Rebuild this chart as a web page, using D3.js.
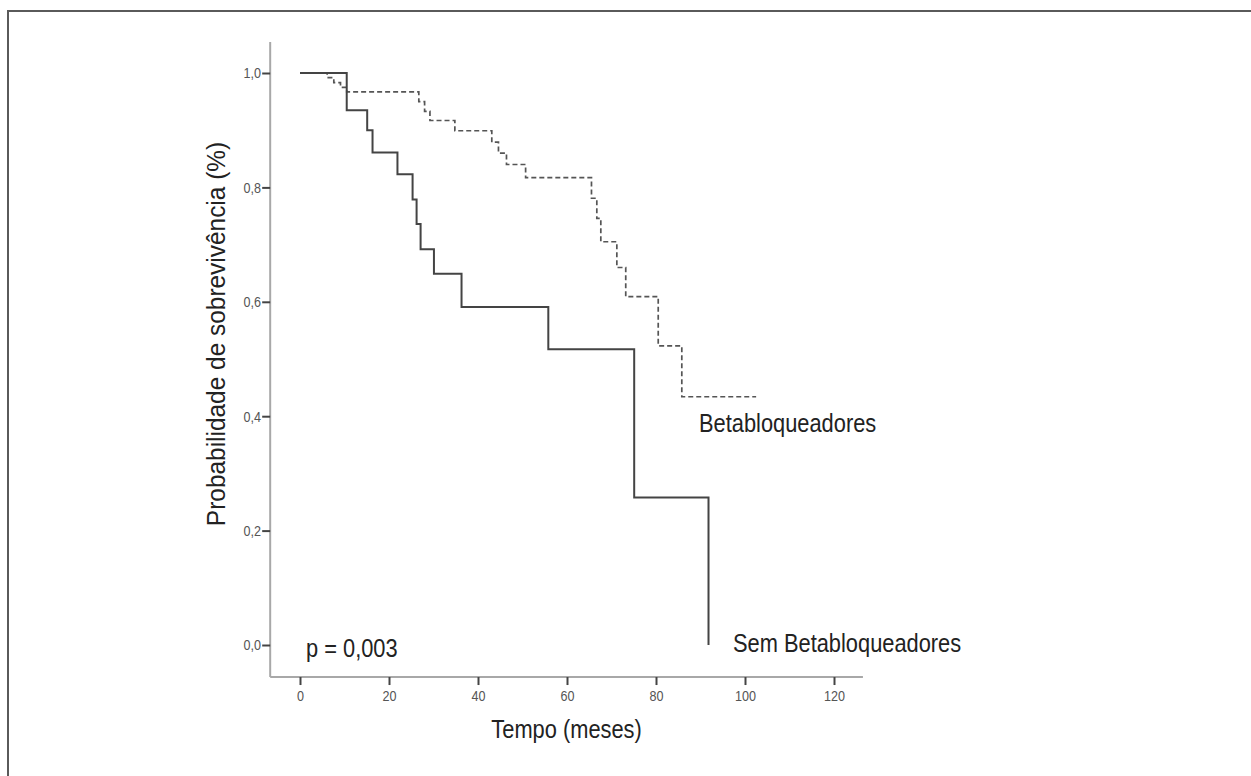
<!DOCTYPE html>
<html>
<head>
<meta charset="utf-8">
<script src="https://cdn.jsdelivr.net/npm/d3@7"></script>
<style>
body{margin:0;background:#fff}
svg text{font-family:"Liberation Sans Narrow","Arial Narrow","Liberation Sans",Arial,sans-serif}
</style>
</head>
<body>
<svg id="map" width="1251" height="776"></svg>
<script>
// tempo (meses) e sobrevivencia estimada
var semTime = [0, 10.5, 15.1, 16.3, 21.9, 25.3, 26.2, 27.1, 30.1, 36.3, 55.8, 75.1, 91.8]
var semSurv = [1, 0.935, 0.900, 0.861, 0.823, 0.779, 0.736, 0.692, 0.649, 0.591, 0.517, 0.258, 0]

var betaTime = [0, 6.1, 7.6, 9.1, 10.5, 26.7, 28.0, 29.2, 34.8, 43.1, 44.6, 46.4, 50.7, 65.5, 66.7, 67.6, 71.2, 73.2, 80.5, 85.8, 102.5]
var betaSurv = [1, 0.992, 0.983, 0.975, 0.967, 0.950, 0.933, 0.917, 0.899, 0.879, 0.860, 0.840, 0.817, 0.781, 0.746, 0.705, 0.660, 0.609, 0.523, 0.434, 0.434]

var xTicks = [0, 20, 40, 60, 80, 100, 120]
var yTicks = [0, 0.2, 0.4, 0.6, 0.8, 1.0]

var narrow = 0.84  // fonte estreita simulada

var map = d3.select('svg#map')

// moldura (so topo e esquerda aparecem)
map.append('rect')
	.attr('x', 8).attr('y', 11)
	.attr('width', 1300).attr('height', 800)
	.attr('fill', 'none')
	.attr('stroke', '#5a5a5a')
	.attr('stroke-width', 2)

var x = d3.scaleLinear().domain([0, 120]).range([300, 834])
var y = d3.scaleLinear().domain([0, 1]).range([645, 73])

var xMin = -6.7, xMax = 126.5
var yMin = -0.056, yMax = 1.054

// linhas dos eixos
map.append('line')
	.attr('x1', x(xMin)).attr('x2', x(xMin))
	.attr('y1', y(yMax)).attr('y2', y(yMin))
	.attr('stroke', '#a8a8a8').attr('stroke-width', 2)
map.append('line')
	.attr('x1', x(xMin)).attr('x2', x(xMax))
	.attr('y1', y(yMin)).attr('y2', y(yMin))
	.attr('stroke', '#a8a8a8').attr('stroke-width', 2)

var xAxis = d3.axisBottom(x).tickValues(xTicks).tickSize(8).tickPadding(5)
var gx = map.append('g').attr('transform', 'translate(0,' + y(yMin) + ')').call(xAxis)
gx.select('.domain').remove()

var yAxis = d3.axisLeft(y).tickValues(yTicks).tickSize(8).tickPadding(3)
	.tickFormat(function(d){ return d3.format('.1f')(d).replace('.', ',') })
var gy = map.append('g').attr('transform', 'translate(' + x(xMin) + ',0)').call(yAxis)
gy.select('.domain').remove()

map.selectAll('.tick line').attr('stroke', '#444').attr('stroke-width', 2)
map.selectAll('.tick text').attr('fill', '#555').style('font-size', '15px')
	.attr('transform', 'scale(' + narrow + ',1)')

// curvas de Kaplan-Meier
var line = d3.line()
	.x(function(d){ return x(d[0]) })
	.y(function(d){ return y(d[1]) })
	.curve(d3.curveStepAfter)

map.append('path')
	.datum(betaTime.map(function(t, i){ return [t, betaSurv[i]] }))
	.attr('d', line)
	.attr('fill', 'none')
	.attr('stroke', '#555')
	.attr('stroke-width', 1.7)
	.attr('stroke-dasharray', '5,3')

map.append('path')
	.datum(semTime.map(function(t, i){ return [t, semSurv[i]] }))
	.attr('d', line)
	.attr('fill', 'none')
	.attr('stroke', '#444')
	.attr('stroke-width', 2)

// textos
function label(px, py, str, anchor, rot, sx){
	map.append('text')
		.attr('transform', 'translate(' + px + ',' + py + ')' + (rot ? ' rotate(' + rot + ')' : '') + ' scale(' + (sx || narrow) + ',1)')
		.attr('text-anchor', anchor || 'start')
		.style('font-size', '26px').attr('fill', '#222')
		.text(str)
}

label(699, 432, 'Betabloqueadores')
label(733, 652, 'Sem Betabloqueadores')
label(306, 657, 'p = 0,003')
label((x(xMin) + x(xMax)) / 2, 738, 'Tempo (meses)', 'middle')
label(225, 334, 'Probabilidade de sobrevivência (%)', 'middle', -90, 0.94)
</script>
</body>
</html>
